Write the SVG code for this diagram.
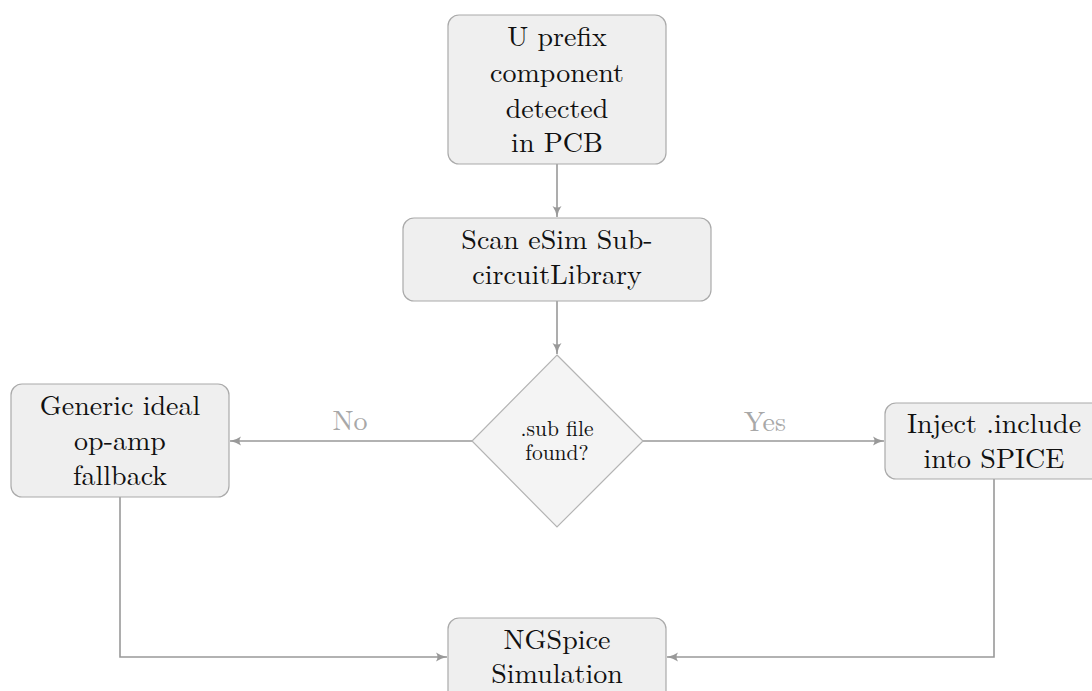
<svg xmlns="http://www.w3.org/2000/svg" width="1092" height="691" viewBox="0 0 1092 691">
<style>
.node{fill:#efefef;stroke:#aaaaaa;stroke-width:1.2}
.dia{fill:#f4f4f4;stroke:#b4b4b4;stroke-width:1.2}
.t{font-size:28px;fill:#111111;text-anchor:middle}
.ts{font-size:21.5px;fill:#111111;text-anchor:middle}
.lbl{font-size:28px;fill:#a8a8a8;text-anchor:middle}
.c{fill:none;stroke:#999999;stroke-width:1.6}
</style>
<defs>
<marker id="arr" viewBox="0 0 12 10" refX="11" refY="5" markerWidth="12" markerHeight="10" markerUnits="userSpaceOnUse" orient="auto">
<path d="M0,0.5 Q5,4 11,5 Q5,6 0,9.5 Q3,5 0,0.5 Z" fill="#999999"/>
</marker>
</defs>
<rect width="1092" height="691" fill="#ffffff"/>
<g id="connectors">
<path class="c" d="M557,164 V217" marker-end="url(#arr)"/>
<path class="c" d="M557,301 V354" marker-end="url(#arr)"/>
<path class="c" d="M472,441 H230" marker-end="url(#arr)"/>
<path class="c" d="M643,441 H884" marker-end="url(#arr)"/>
<path class="c" d="M120,497 V657 H447" marker-end="url(#arr)"/>
<path class="c" d="M994,479 V657 H667" marker-end="url(#arr)"/>
<text class="lbl" font-family="Latin Modern Roman" x="350" y="430">No</text>
<text class="lbl" font-family="Latin Modern Roman" x="765" y="431">Yes</text>
</g>
<g id="n_detect">
<rect class="node" x="448" y="15" width="218" height="149" rx="11"/>
<text class="t" font-family="Latin Modern Roman" x="557" y="46">U prefix</text>
<text class="t" font-family="Latin Modern Roman" x="557" y="82">component</text>
<text class="t" font-family="Latin Modern Roman" x="557" y="118">detected</text>
<text class="t" font-family="Latin Modern Roman" x="557" y="152">in PCB</text>
</g>
<g id="n_scan">
<rect class="node" x="403" y="218" width="308" height="83" rx="11"/>
<text class="t" font-family="Latin Modern Roman" x="557" y="249">Scan eSim Sub-</text>
<text class="t" font-family="Latin Modern Roman" x="557" y="284">circuitLibrary</text>
</g>
<g id="n_decision">
<polygon class="dia" points="557,355 643,441 557,527 472,441"/>
<text class="ts" font-family="Latin Modern Roman" x="557" y="436">.sub file</text>
<text class="ts" font-family="Latin Modern Roman" x="557" y="460">found?</text>
</g>
<g id="n_fallback">
<rect class="node" x="11" y="384" width="218" height="113" rx="11"/>
<text class="t" font-family="Latin Modern Roman" x="120" y="415">Generic ideal</text>
<text class="t" font-family="Latin Modern Roman" x="120" y="450">op-amp</text>
<text class="t" font-family="Latin Modern Roman" x="120" y="485">fallback</text>
</g>
<g id="n_inject">
<rect class="node" x="885" y="403" width="218" height="76" rx="11"/>
<text class="t" font-family="Latin Modern Roman" x="994" y="433">Inject .include</text>
<text class="t" font-family="Latin Modern Roman" x="994" y="468">into SPICE</text>
</g>
<g id="n_ngspice">
<rect class="node" x="448" y="618" width="218" height="90" rx="11"/>
<text class="t" font-family="Latin Modern Roman" x="557" y="649">NGSpice</text>
<text class="t" font-family="Latin Modern Roman" x="557" y="683">Simulation</text>
</g>
</svg>
